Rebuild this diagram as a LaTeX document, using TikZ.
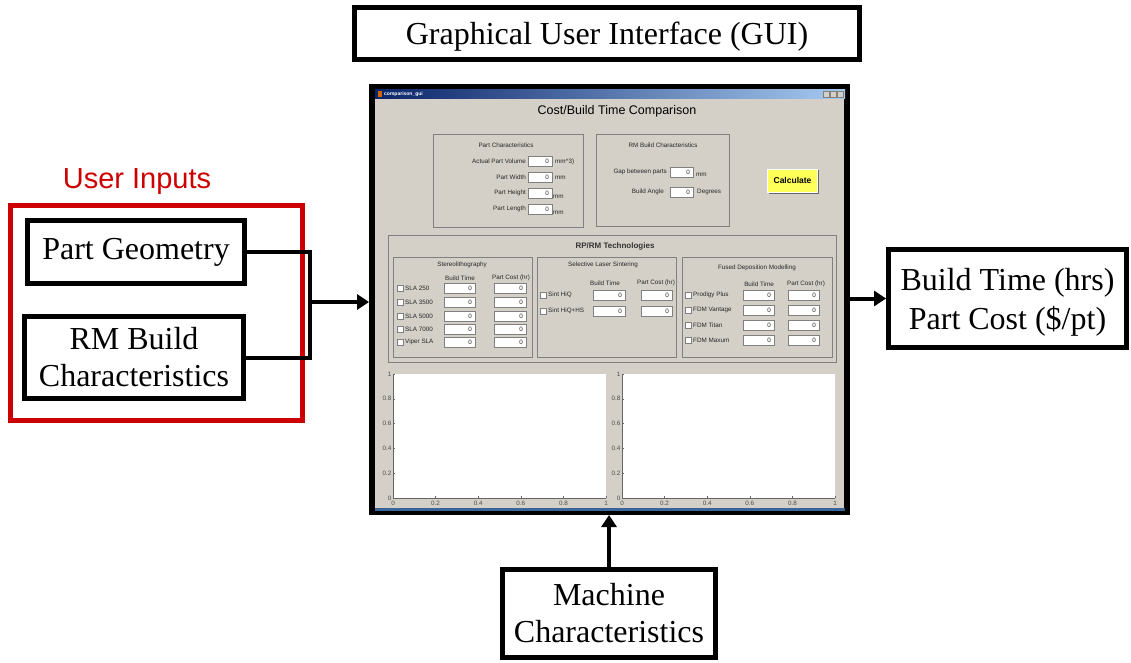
\documentclass[tikz,border=0pt]{standalone}
\usepackage{fontspec}
\setmainfont{Liberation Serif}
\newfontfamily\arialf{Liberation Sans}
\usetikzlibrary{arrows.meta}
\definecolor{winGray}{RGB}{212,208,200}
\definecolor{tbDark}{RGB}{10,36,106}
\definecolor{tbLight}{RGB}{166,202,240}
\definecolor{etch}{RGB}{128,128,128}
\definecolor{inRed}{RGB}{204,0,0}
\definecolor{calcYellow}{RGB}{255,255,90}
\definecolor{stripBlue}{RGB}{60,100,150}
\newcommand\bigfont{\fontsize{32}{37}\selectfont}
\newcommand\ebx[4]{%
  \draw[draw=etch, fill=white, line width=0.6pt] (#1,#3-5) rectangle (#2,#3+5);
  \node[gtxt, anchor=east] at (#2-3,#3) {#4};}
\newcommand\cbx[2]{%
  \draw[draw=etch, fill=white, line width=0.6pt] (#1-3,#2-3) rectangle (#1+3,#2+3);}
\tikzset{
  blk/.style={draw, line width=5pt, fill=white, inner sep=0pt, align=center, font=\bigfont},
  conn/.style={line width=4pt},
  arr/.style={line width=4pt, -{Triangle[length=12pt,width=15pt]}},
  gtxt/.style={font=\arialf\fontsize{6.3}{7}\selectfont, inner sep=0pt, text=black!85},
  grp/.style={draw=etch, line width=1pt},
  tick/.style={font=\arialf\fontsize{6.3}{7}\selectfont, inner sep=0pt, text=black!70}
}
\begin{document}
\begin{tikzpicture}[x=1pt,y=-1pt]
\useasboundingbox (0,0) rectangle (1131,663);

% ---- title box
\node[blk, text depth=0pt, minimum width=505pt, minimum height=52pt] (title) at (607,33.5) {Graphical User Interface (GUI)};

% ---- GUI window
\node[draw, line width=6pt, fill=winGray, minimum width=475pt, minimum height=425pt, inner sep=0pt] (gui) at (609.5,299.5) {};
\shade[left color=tbDark, right color=tbLight] (375,90) rectangle (845,99);
\fill[orange!80!black] (378,91.5) rectangle (382,97.5);
\node[font=\arialf\fontsize{5}{6}\selectfont\bfseries, text=white, anchor=west, inner sep=0pt] (tbt) at (384,94.5) {comparison\_gui};
\foreach \bx in {823,830,837}{\draw[fill=winGray, draw=etch, line width=0.4pt] (\bx,91.5) rectangle (\bx+6,97.5);}
\fill[stripBlue] (375,508) rectangle (845,511);

\node[font=\arialf\fontsize{12.5}{14}\selectfont, inner sep=0pt] (cbt) at (617,111) {Cost/Build Time Comparison};

% Part characteristics
\draw[grp] (433,135) rectangle (583,227);
\node[gtxt] (pct) at (506,145) {Part Characteristics};
\node[gtxt, anchor=east] (l1) at (526,161) {Actual Part Volume};
\node[gtxt, anchor=east] (l2) at (526,177) {Part Width};
\node[gtxt, anchor=east] (l3) at (526,193) {Part Height};
\node[gtxt, anchor=east] (l4) at (526,209) {Part Length};
\ebx{528}{552}{161}{0}
\ebx{528}{552}{177}{0}
\ebx{528}{552}{193}{0}
\ebx{528}{552}{209}{0}
\node[gtxt, anchor=west] (u1) at (555,162) {mm\^{}3)};
\node[gtxt, anchor=west] (u2) at (555,178) {mm};
\node[gtxt, anchor=west] (u3) at (553,197) {mm};
\node[gtxt, anchor=west] (u4) at (553,213) {mm};

% RM build characteristics
\draw[grp] (596,135) rectangle (729,226);
\node[gtxt] (rmt) at (663,145) {RM Build Characteristics};
\node[gtxt, anchor=east] (g1) at (667,172) {Gap between parts};
\node[gtxt, anchor=east] (g2) at (664,192) {Build Angle};
\ebx{670}{693}{172}{0}
\ebx{670}{693}{192}{0}
\node[gtxt, anchor=west] (gu1) at (696,175) {mm};
\node[gtxt, anchor=west] (gu2) at (697,192) {Degrees};

% Calculate button
\fill[black!60] (769,170) rectangle (819,194);
\node[draw=white, line width=0.6pt, fill=calcYellow, minimum width=50pt, minimum height=23pt, inner sep=0pt, font=\arialf\fontsize{8.5}{10}\selectfont\bfseries] (calc) at (792.5,180.5) {Calculate};

% RP/RM technologies
\draw[grp] (388,235) rectangle (836,362);
\node[font=\arialf\fontsize{8}{9}\selectfont\bfseries, inner sep=0pt, text=black!80] (rpt) at (615,246) {RP/RM Technologies};

% Stereolithography
\draw[grp] (393,257) rectangle (532,357);
\node[gtxt] (stt) at (462,265) {Stereolithography};
\node[gtxt] (sh1) at (460,278) {Build Time};
\node[gtxt] (sh2) at (511,278) {Part Cost (hr)};
\foreach \yy/\lab [count=\k] in {288/SLA 250,302/SLA 3500,316/SLA 5000,329/SLA 7000,342/Viper SLA}{
  \cbx{400}{\yy}
  \node[gtxt, anchor=west] (sla\k) at (405,\yy) {\lab};
  \ebx{444}{475}{\yy}{0}
  \ebx{494}{526}{\yy}{0}
}

% SLS
\draw[grp] (537,257) rectangle (676,357);
\node[gtxt] (slst) at (603,265) {Selective Laser Sintering};
\node[gtxt] (lh1) at (605,283) {Build Time};
\node[gtxt] (lh2) at (656,283) {Part Cost (hr)};
\foreach \yy/\lab [count=\k] in {295/Sint HiQ,311/Sint HiQ+HS}{
  \cbx{543}{\yy}
  \node[gtxt, anchor=west] (sls\k) at (548,\yy) {\lab};
  \ebx{593}{625}{\yy}{0}
  \ebx{641}{672}{\yy}{0}
}

% FDM
\draw[grp] (682,257) rectangle (832,357);
\node[gtxt] (fdmt) at (757,268) {Fused Deposition Modelling};
\node[gtxt] (fh1) at (759,284) {Build Time};
\node[gtxt] (fh2) at (806,284) {Part Cost (hr)};
\foreach \yy/\lab [count=\k] in {295/Prodigy Plus,310/FDM Vantage,325/FDM Titan,340/FDM Maxum}{
  \cbx{688}{\yy}
  \node[gtxt, anchor=west] (fdm\k) at (693,\yy) {\lab};
  \ebx{743}{774}{\yy}{0}
  \ebx{788}{819}{\yy}{0}
}

% plots
\foreach \px/\nm in {393/pa,622/pb}{
  \fill[white] (\px,374) rectangle (\px+213,498);
  \draw[black!60, line width=0.6pt] (\px,374) -- (\px,498) -- (\px+213,498);
  \foreach \t [count=\k from 0] in {0,0.2,0.4,0.6,0.8,1}{
    \draw[black!60, line width=0.5pt] (\px,498-\k*24.8) -- (\px+2,498-\k*24.8);
    \draw[black!60, line width=0.5pt] (\px+\k*42.6,498) -- (\px+\k*42.6,496);
    \node[tick, anchor=east] (\nm y\k) at (\px-1.5,498-\k*24.8) {\t};
    \node[tick, anchor=north] (\nm x\k) at (\px+\k*42.6,500.5) {\t};
  }
}

% ---- user inputs
\node[font=\arialf\fontsize{29}{32}\selectfont, text=inRed, inner sep=0pt] (ui) at (137,182) {User Inputs};
\draw[inRed, line width=5pt] (10.5,205.5) rectangle (302.5,420.5);
\node[blk, minimum width=217pt, minimum height=63pt] (pg) at (136,252) {Part Geometry};
\node[blk, minimum width=219pt, minimum height=82pt] (rm) at (134,357.5) {RM Build\\Characteristics};
\coordinate (j) at (310,302);
\draw[conn] (pg.east) -| (j) |- (rm.east);
\draw[arr] ([xshift=-2pt]j) -- (gui.west |- j);

% ---- outputs
\node[blk, text depth=0pt, font=\fontsize{32}{39}\selectfont, minimum width=238pt, minimum height=98pt] (bt) at (1007.5,298.5) {Build Time (hrs)\\Part Cost (\$/pt)};
\draw[arr] (gui.east |- bt.west) -- (bt.west);

% ---- machine
\node[blk, minimum width=213pt, minimum height=88pt] (mc) at (609,613.5) {Machine\\Characteristics};
\draw[arr] (mc.north) -- (mc.north |- gui.south);
\end{tikzpicture}
\end{document}
